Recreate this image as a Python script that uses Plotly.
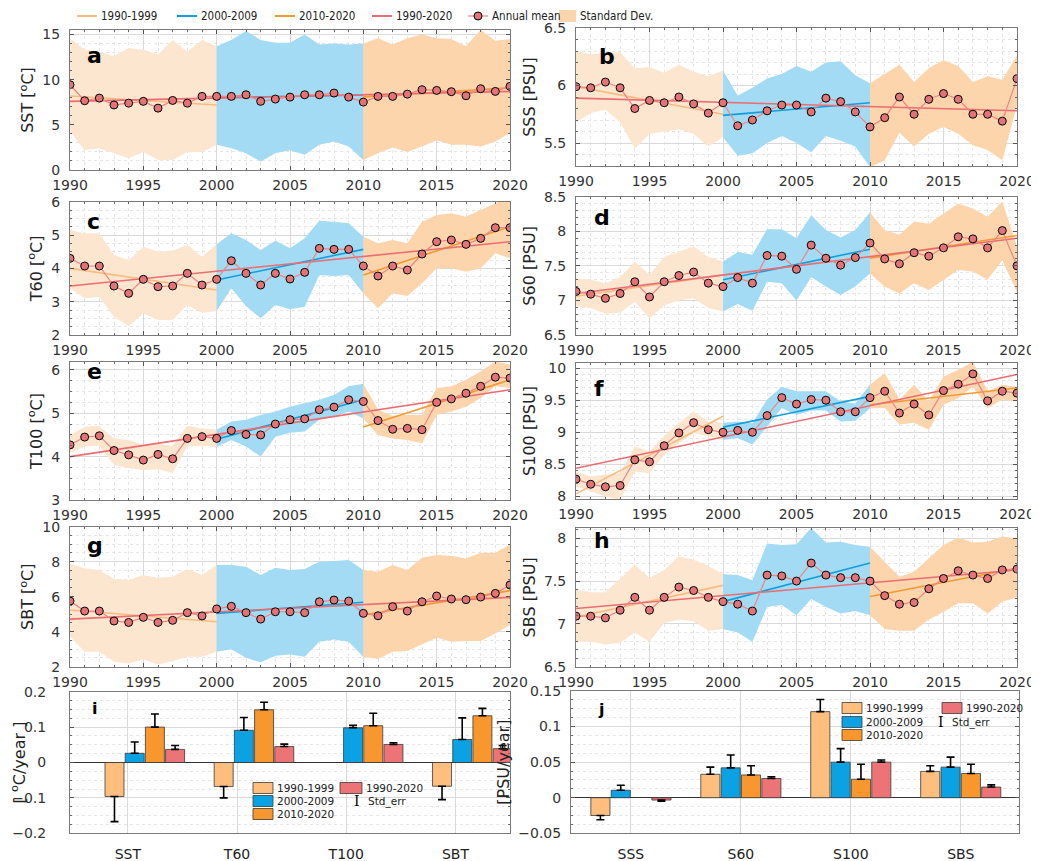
import plotly.graph_objects as go

# ---------------- DATA ----------------
YEARS = list(range(1990, 2021))
PERIOD_NAMES = ["1990-1999", "2000-2009", "2010-2020", "1990-2020"]
PERIOD_SPANS = [(1990, 2000), (2000, 2010), (2010, 2020), (1990, 2020)]

SST_mean = [9.44, 7.67, 7.96, 7.2, 7.4, 7.6, 6.85, 7.7, 7.4, 8.15, 8.15, 8.15, 8.33, 7.6, 7.85, 8.07,
            8.33, 8.33, 8.52, 8.07, 7.52, 8.15, 8.15, 8.4, 8.89, 8.81, 8.67, 8.22, 9.0, 8.7, 9.26]
SST_up = [14.6, 13.3, 13.1, 12.6, 13.5, 13.3, 12.8, 14.4, 13.1, 14.4, 13.7, 14.4, 15.4, 14.4, 14.1, 14.1,
          15.0, 13.9, 14.0, 13.9, 14.0, 14.6, 13.9, 14.6, 15.0, 14.6, 14.5, 13.7, 15.5, 14.3, 14.5]
SST_lo = [4.3, 2.2, 2.4, 1.85, 1.3, 2.0, 1.1, 1.1, 2.0, 2.0, 2.8, 2.4, 1.85, 0.93, 1.85, 2.2,
          1.7, 2.8, 3.15, 2.6, 1.1, 1.85, 2.5, 2.0, 2.6, 3.3, 2.8, 2.8, 2.6, 3.15, 4.1]
SST_trend = [[8.2, 7.2], [8.0, 8.3], [8.1, 9.1], [7.6, 8.7]]

SSS_mean = [5.99, 5.98, 6.03, 5.98, 5.8, 5.87, 5.85, 5.9, 5.84, 5.76, 5.85, 5.65, 5.7, 5.78, 5.83, 5.83,
            5.77, 5.89, 5.86, 5.77, 5.64, 5.72, 5.9, 5.75, 5.88, 5.93, 5.88, 5.75, 5.75, 5.69, 6.06]
SSS_up = [6.3, 6.27, 6.29, 6.29, 6.15, 6.16, 6.11, 6.18, 6.12, 6.08, 6.13, 5.91, 5.98, 6.06, 6.1, 6.17,
          6.12, 6.2, 6.21, 6.09, 6.02, 6.1, 6.18, 6.03, 6.15, 6.22, 6.17, 6.03, 6.08, 6.05, 6.26]
SSS_lo = [5.68, 5.76, 5.79, 5.68, 5.45, 5.58, 5.6, 5.62, 5.58, 5.47, 5.55, 5.39, 5.41, 5.5, 5.56, 5.5,
          5.42, 5.56, 5.52, 5.47, 5.29, 5.35, 5.59, 5.47, 5.58, 5.64, 5.58, 5.48, 5.44, 5.35, 5.83]
SSS_trend = [[5.99, 5.75], [5.74, 5.85], None, [5.89, 5.78]]

T60_mean = [4.3, 4.07, 4.07, 3.47, 3.25, 3.67, 3.45, 3.47, 3.85, 3.5, 3.67, 4.23, 3.85, 3.5, 3.85, 3.68,
            3.88, 4.6, 4.57, 4.57, 4.07, 3.77, 4.07, 3.95, 4.43, 4.8, 4.85, 4.72, 4.9, 5.22, 5.22]
T60_up = [5.15, 5.05, 5.05, 4.4, 4.25, 4.65, 4.5, 4.53, 4.7, 4.35, 4.72, 5.05, 4.85, 4.55, 4.83, 4.6,
          4.9, 5.43, 5.4, 5.35, 4.95, 4.75, 4.85, 4.75, 5.4, 5.6, 5.65, 5.55, 5.75, 5.95, 6.15]
T60_lo = [3.4, 3.1, 3.15, 2.55, 2.27, 2.65, 2.45, 2.45, 2.9, 2.67, 2.72, 3.4, 2.87, 2.5, 2.9, 2.77,
          2.85, 3.8, 3.77, 3.8, 3.25, 2.8, 3.25, 3.17, 3.55, 4.0, 4.0, 3.9, 4.0, 4.45, 4.3]
T60_trend = [[4.0, 3.35], [3.65, 4.57], [3.8, 5.25], [3.47, 4.8]]

S60_mean = [7.13, 7.09, 7.03, 7.1, 7.27, 7.05, 7.27, 7.36, 7.41, 7.25, 7.2, 7.33, 7.25, 7.65, 7.64, 7.45,
            7.8, 7.61, 7.51, 7.62, 7.83, 7.6, 7.53, 7.69, 7.64, 7.76, 7.92, 7.89, 7.76, 8.01, 7.5]
S60_up = [7.32, 7.3, 7.25, 7.34, 7.56, 7.37, 7.63, 7.7, 7.78, 7.63, 7.56, 7.7, 7.66, 8.03, 8.03, 7.9,
          8.23, 8.02, 7.91, 8.02, 8.27, 8.02, 7.95, 8.14, 8.11, 8.26, 8.4, 8.33, 8.21, 8.43, 7.78]
S60_lo = [6.92, 6.89, 6.81, 6.82, 6.98, 6.74, 6.93, 7.0, 7.03, 6.89, 6.84, 6.95, 6.85, 7.27, 7.25, 7.0,
          7.34, 7.2, 7.08, 7.2, 7.39, 7.2, 7.1, 7.25, 7.15, 7.3, 7.44, 7.42, 7.3, 7.58, 7.12]
S60_trend = [[7.06, 7.37], [7.3, 7.74], [7.61, 7.94], [7.1, 7.9]]

T100_mean = [4.27, 4.45, 4.48, 4.14, 4.04, 3.92, 4.05, 3.95, 4.42, 4.46, 4.42, 4.6, 4.51, 4.5, 4.75, 4.85,
             4.87, 5.08, 5.14, 5.31, 5.27, 4.83, 4.63, 4.65, 4.62, 5.25, 5.33, 5.46, 5.62, 5.83, 5.81]
T100_up = [4.5, 4.69, 4.71, 4.42, 4.38, 4.27, 4.29, 4.25, 4.71, 4.65, 4.62, 4.81, 4.85, 4.96, 5.04, 5.15,
           5.23, 5.31, 5.42, 5.62, 5.68, 5.08, 4.94, 4.96, 4.96, 5.58, 5.62, 5.77, 5.96, 6.19, 6.12]
T100_lo = [4.08, 4.23, 4.25, 3.81, 3.73, 3.69, 3.71, 3.62, 4.23, 4.25, 4.22, 4.38, 4.23, 4.0, 4.46, 4.55,
           4.58, 4.85, 4.91, 5.04, 4.88, 4.5, 4.42, 4.38, 4.31, 4.96, 5.04, 5.15, 5.35, 5.62, 5.58]
T100_trend = [None, [4.4, 5.31], [4.68, 5.77], [4.0, 5.54]]

S100_mean = [8.27, 8.19, 8.15, 8.17, 8.57, 8.54, 8.79, 8.99, 9.15, 9.04, 9.0, 9.03, 9.0, 9.26, 9.54, 9.44,
             9.51, 9.5, 9.32, 9.32, 9.54, 9.64, 9.3, 9.44, 9.27, 9.65, 9.75, 9.91, 9.49, 9.64, 9.61]
S100_up = [8.39, 8.31, 8.34, 8.36, 8.78, 8.7, 8.94, 9.15, 9.32, 9.17, 9.15, 9.17, 9.14, 9.51, 9.71, 9.64,
           9.64, 9.64, 9.48, 9.45, 9.74, 9.92, 9.51, 9.74, 9.48, 9.87, 9.97, 10.1, 9.64, 9.74, 9.71]
S100_lo = [8.16, 8.08, 8.0, 7.95, 8.39, 8.36, 8.65, 8.83, 8.99, 8.94, 8.88, 8.91, 8.81, 9.09, 9.38, 9.27,
           9.34, 9.34, 9.17, 9.18, 9.37, 9.38, 9.12, 9.15, 9.04, 9.43, 9.53, 9.71, 9.38, 9.51, 9.48]
S100_trend = [[8.04, 9.25], [9.08, 9.56], [9.43, 9.69], [8.44, 9.9]]

SBT_mean = [5.75, 5.18, 5.18, 4.61, 4.53, 4.82, 4.53, 4.65, 5.09, 4.9, 5.3, 5.45, 5.09, 4.72, 5.14, 5.14,
            5.09, 5.71, 5.81, 5.75, 5.05, 4.91, 5.43, 5.18, 5.71, 6.04, 5.87, 5.83, 5.98, 6.19, 6.67]
SBT_up = [7.9, 7.62, 7.52, 7.01, 6.95, 7.24, 7.09, 7.14, 7.58, 7.24, 7.81, 7.81, 7.71, 7.24, 7.66, 7.52,
          7.58, 8.0, 8.04, 8.1, 7.52, 7.43, 7.81, 7.52, 8.23, 8.38, 8.34, 8.19, 8.51, 8.51, 8.99]
SBT_lo = [3.71, 2.86, 2.86, 2.29, 2.19, 2.42, 2.13, 2.32, 2.57, 2.57, 2.86, 3.0, 2.51, 2.25, 2.63, 2.7,
          2.57, 3.43, 3.56, 3.43, 2.57, 2.44, 2.86, 2.9, 3.28, 3.66, 3.43, 3.47, 3.47, 3.9, 4.38]
SBT_trend = [[5.24, 4.57], [5.05, 5.68], [4.95, 6.35], [4.72, 5.96]]

SBS_mean = [7.09, 7.09, 7.07, 7.16, 7.31, 7.16, 7.31, 7.43, 7.39, 7.31, 7.26, 7.23, 7.15, 7.57, 7.56, 7.5,
            7.71, 7.57, 7.54, 7.54, 7.5, 7.33, 7.23, 7.25, 7.41, 7.53, 7.62, 7.57, 7.53, 7.63, 7.64]
SBS_up = [7.4, 7.37, 7.37, 7.53, 7.69, 7.54, 7.63, 7.79, 7.75, 7.68, 7.58, 7.57, 7.51, 7.94, 7.92, 7.93,
          8.12, 7.95, 7.96, 7.92, 7.9, 7.73, 7.55, 7.61, 7.77, 7.92, 8.01, 7.95, 7.96, 8.02, 8.0]
SBS_lo = [6.79, 6.79, 6.76, 6.78, 6.9, 6.79, 7.01, 7.05, 7.03, 6.92, 6.94, 6.9, 6.79, 7.2, 7.22, 7.1,
          7.29, 7.2, 7.12, 7.15, 7.1, 6.94, 6.92, 6.92, 7.05, 7.14, 7.24, 7.24, 7.12, 7.26, 7.31]
SBS_trend = [[7.08, 7.45], [7.26, 7.71], [7.32, 7.65], [7.18, 7.63]]

TEMP_CATS = ["SST", "T60", "T100", "SBT"]
TEMP_RATE = {"1990-1999": [-0.096, -0.068, None, -0.067],
             "2000-2009": [0.026, 0.091, 0.098, 0.065],
             "2010-2020": [0.100, 0.149, 0.104, 0.132],
             "1990-2020": [0.037, 0.045, 0.051, 0.039]}
TEMP_ERR = {"1990-1999": [0.071, 0.032, None, 0.038],
            "2000-2009": [0.032, 0.036, 0.007, 0.061],
            "2010-2020": [0.037, 0.021, 0.035, 0.021],
            "1990-2020": [0.011, 0.007, 0.005, 0.009]}
SAL_CATS = ["SSS", "S60", "S100", "SBS"]
SAL_RATE = {"1990-1999": [-0.025, 0.033, 0.121, 0.037],
            "2000-2009": [0.0105, 0.042, 0.050, 0.043],
            "2010-2020": [None, 0.032, 0.026, 0.034],
            "1990-2020": [-0.0033, 0.027, 0.050, 0.015]}
SAL_ERR = {"1990-1999": [0.006, 0.010, 0.017, 0.008],
           "2000-2009": [0.007, 0.018, 0.019, 0.014],
           "2010-2020": [None, 0.013, 0.021, 0.013],
           "1990-2020": [0.0017, 0.0025, 0.003, 0.003]}
LEGEND_LABELS = PERIOD_NAMES + ["Annual mean", "Standard Dev."]

# ---------------- STYLE ----------------
PAGE_W, PAGE_H = 1039, 861
PAD = 8                      # default page body margin
W, H = PAGE_W - PAD, PAGE_H - PAD
FONT = "DejaVu Sans"
NARROW = "DejaVu Sans Condensed, Liberation Sans Narrow, Liberation Sans, sans-serif"
BAND_COLORS = ["#FDE6CF", "#A2DBF3", "#FCD5AD"]
TR_COLORS = ["#F8BC80", "#129FDB", "#F39A31", "#EB6C72"]
BAR_COLORS = ["#FDBE7E", "#0AA2E3", "#F7972E", "#EC7376"]
MEAN_LINE = "#EE8585"
MEAN_FILL = "#E27476"
GRID = "#DADADA"
MINOR_GRID = "#E6E6E6"
AXLINE = "#7A7A7A"


def px_x(px):
    return (px - PAD) / W


def px_y(py):
    return 1 - (py - PAD) / H


SERIES = {
    "a": (SST_mean, SST_up, SST_lo, SST_trend, "SST [<sup>o</sup>C]"),
    "b": (SSS_mean, SSS_up, SSS_lo, SSS_trend, "SSS [PSU]"),
    "c": (T60_mean, T60_up, T60_lo, T60_trend, "T60 [<sup>o</sup>C]"),
    "d": (S60_mean, S60_up, S60_lo, S60_trend, "S60 [PSU]"),
    "e": (T100_mean, T100_up, T100_lo, T100_trend, "T100 [<sup>o</sup>C]"),
    "f": (S100_mean, S100_up, S100_lo, S100_trend, "S100 [PSU]"),
    "g": (SBT_mean, SBT_up, SBT_lo, SBT_trend, "SBT [<sup>o</sup>C]"),
    "h": (SBS_mean, SBS_up, SBS_lo, SBS_trend, "SBS [PSU]"),
}
# pixel geometry (page px): x-span, y-span(top,bottom), y-range, major dtick, minor dtick
GEOM = {
    "a": ((70, 510), (30, 170), (0, 15.5), 5, 1),
    "b": ((576, 1017), (28, 166), (5.3, 6.5), 0.5, 0.1),
    "c": ((70, 510), (201.7, 335), (2, 6), 1, 0.25),
    "d": ((576, 1017), (196.7, 335), (6.5, 8.5), 0.5, 0.1),
    "e": ((70, 510), (362, 500), (3, 6.18), 1, 0.25),
    "f": ((576, 1017), (363, 499), (7.96, 10.08), 0.5, 0.1),
    "g": ((70, 510), (526.7, 666.7), (2, 10), 2, 0.5),
    "h": ((576, 1017), (528, 666.7), (6.5, 8.12), 0.5, 0.1),
    "i": ((70, 510), (691.7, 833.3), (-0.2, 0.2), 0.1, 0.025),
    "j": ((571, 1019), (691, 833.3), (-0.05, 0.15), 0.05, 0.0125),
}
LETTER_POS = {"a": (85, 55, 22), "b": (597, 56, 22), "c": (85, 221, 22), "d": (592, 218, 22),
              "e": (85, 371, 22), "f": (592, 388, 22), "g": (85, 545, 22), "h": (592, 540, 22),
              "i": (90, 708, 16), "j": (596, 709, 16)}
BAR_SHIFT = {"i": 0.155, "j": 0.0}
BAR_XRANGE = {"i": (0.315, 4.345), "j": (0.455, 4.53)}
YLABEL_STANDOFF = {"i": 20}
# bar-panel legend geometry (page px)
BAR_LEG = {"i": dict(c1=(253, 273), c2=(340, 362), se=357, rows=(788, 801, 814)),
           "j": dict(c1=(842, 862), c2=(942, 962), se=941, rows=(708, 722, 735))}
# top legend geometry (page px): swatch spans, row centre
TOP_LEG_SPANS = [(77, 97), (177, 197), (275, 295), (372, 392), (468, 488), (559, 576)]
TOP_LEG_Y = 16

KEYS = "abcdefghij"
AX = {k: i + 1 for i, k in enumerate(KEYS)}


def ref(n, kind):
    return kind + ("" if n == 1 else str(n))


def lname(n, kind):
    return kind + "axis" + ("" if n == 1 else str(n))


fig = go.Figure()

# ---- line panels ----
for key, (mean, up, lo, trend, title) in SERIES.items():
    n = AX[key]
    xr, yr = ref(n, "x"), ref(n, "y")
    for k in range(3):
        s, e = 10 * k, 10 * k + 11
        xs = YEARS[s:e]
        fig.add_trace(go.Scatter(
            x=xs + xs[::-1], y=up[s:e] + lo[s:e][::-1], fill="toself",
            fillcolor=BAND_COLORS[k], line=dict(width=0, color=BAND_COLORS[k]), mode="lines",
            xaxis=xr, yaxis=yr, hoverinfo="skip", name="Standard Dev."))
    for k, seg in enumerate(trend):
        if seg is None:
            continue
        fig.add_trace(go.Scatter(
            x=list(PERIOD_SPANS[k]), y=seg, mode="lines",
            line=dict(color=TR_COLORS[k], width=1.6), xaxis=xr, yaxis=yr, name=PERIOD_NAMES[k]))
    fig.add_trace(go.Scatter(
        x=YEARS, y=mean, mode="lines+markers",
        line=dict(color=MEAN_LINE, width=1.2),
        marker=dict(size=8, color=MEAN_FILL, line=dict(color="black", width=1)),
        xaxis=xr, yaxis=yr, name="Annual mean"))

shapes, annotations = [], []

# ---- top legend (drawn) ----
for idx, (sx0, sx1) in enumerate(TOP_LEG_SPANS):
    yc = TOP_LEG_Y
    if idx < 4:
        shapes.append(dict(type="line", xref="paper", yref="paper", x0=px_x(sx0), x1=px_x(sx1),
                           y0=px_y(yc), y1=px_y(yc), line=dict(color=TR_COLORS[idx], width=2)))
    elif idx == 4:
        shapes.append(dict(type="line", xref="paper", yref="paper", x0=px_x(sx0), x1=px_x(sx1),
                           y0=px_y(yc), y1=px_y(yc), line=dict(color=MEAN_LINE, width=1.2)))
        cx = (sx0 + sx1) / 2
        shapes.append(dict(type="circle", xref="paper", yref="paper", x0=px_x(cx - 4), x1=px_x(cx + 4),
                           y0=px_y(yc + 4), y1=px_y(yc - 4), fillcolor=MEAN_FILL,
                           line=dict(color="black", width=1)))
    else:
        shapes.append(dict(type="rect", xref="paper", yref="paper", x0=px_x(sx0), x1=px_x(sx1),
                           y0=px_y(yc + 6), y1=px_y(yc - 6), fillcolor=BAND_COLORS[2], line=dict(width=0)))
    annotations.append(dict(text=LEGEND_LABELS[idx], x=px_x(sx1 + 2), y=px_y(yc), xref="paper",
                            yref="paper", xanchor="left", yanchor="middle", showarrow=False,
                            font=dict(size=11.5, color="#222", family=NARROW)))

# ---- bar panels ----
for key, cats, rates, errs in (("i", TEMP_CATS, TEMP_RATE, TEMP_ERR), ("j", SAL_CATS, SAL_RATE, SAL_ERR)):
    n = AX[key]
    xr, yr = ref(n, "x"), ref(n, "y")
    groups = list(range(1, len(cats) + 1))
    for k, pname in enumerate(PERIOD_NAMES):
        vals, ers = rates[pname], errs[pname]
        plus = [(er if (v is not None and v >= 0) else 0) for v, er in zip(vals, ers)]
        minus = [(er if (v is not None and v < 0) else 0) for v, er in zip(vals, ers)]
        fig.add_trace(go.Bar(
            x=groups, y=vals, xaxis=xr, yaxis=yr, name=pname,
            marker=dict(color=BAR_COLORS[k], line=dict(color="#3a3a3a", width=0.8)),
            error_y=dict(type="data", symmetric=False, array=plus, arrayminus=minus,
                         color="black", thickness=1.6, width=4)))
    g = BAR_LEG[key]
    entries = [(g["c1"], g["rows"][0], 0), (g["c1"], g["rows"][1], 1), (g["c1"], g["rows"][2], 2),
               (g["c2"], g["rows"][0], 3)]
    for (sx0, sx1), yc, k in entries:
        shapes.append(dict(type="rect", xref="paper", yref="paper",
                           x0=px_x(sx0), x1=px_x(sx1), y0=px_y(yc + 5.5), y1=px_y(yc - 5.5),
                           fillcolor=BAR_COLORS[k], line=dict(color="#3a3a3a", width=0.8)))
        annotations.append(dict(text=PERIOD_NAMES[k], x=px_x(sx1 + 2), y=px_y(yc), xref="paper",
                                yref="paper", xanchor="left", yanchor="middle", showarrow=False,
                                font=dict(size=10.5, color="#222", family=FONT)))
    annotations.append(dict(text="I", x=px_x(g["se"]), y=px_y(g["rows"][1]), xref="paper", yref="paper",
                            xanchor="center", yanchor="middle", showarrow=False,
                            font=dict(size=14, color="black", family="DejaVu Serif")))
    annotations.append(dict(text="Std_err", x=px_x(g["se"] + 9), y=px_y(g["rows"][1]), xref="paper",
                            yref="paper", xanchor="left", yanchor="middle", showarrow=False,
                            font=dict(size=10.5, color="#222", family=FONT)))

# ---- axes ----
layout_axes = {}
for key in KEYS:
    n = AX[key]
    (x0, x1), (top, bot), yrng, dt, mdt = GEOM[key]
    common = dict(showline=True, linecolor=AXLINE, linewidth=1, mirror="allticks",
                  ticks="inside", ticklen=4, tickcolor="#555", showgrid=True, gridcolor=GRID,
                  gridwidth=1, zeroline=False, tickfont=dict(size=14, color="#333", family=FONT))
    if key in SERIES:
        xa = dict(common, domain=[px_x(x0), px_x(x1)], anchor=ref(n, "y"), range=[1990, 2020],
                  tick0=1990, dtick=5, ticklabelstandoff=2,
                  minor=dict(dtick=1, ticks="inside", ticklen=2, tickcolor="#666", showgrid=True,
                             gridcolor=MINOR_GRID, griddash="dot"))
        ytitle = SERIES[key][4]
    else:
        shift = BAR_SHIFT[key]
        cats = TEMP_CATS if key == "i" else SAL_CATS
        xa = dict(common, domain=[px_x(x0), px_x(x1)], anchor=ref(n, "y"), range=list(BAR_XRANGE[key]),
                  tickvals=[gp - shift for gp in range(1, 5)], ticktext=cats, ticks="",
                  ticklabelstandoff=8, tickfont=dict(size=14, color="#222", family=FONT))
        ytitle = "[ <sup>o</sup>C/year ]" if key == "i" else "[PSU/year]"
    ya = dict(common, domain=[px_y(bot), px_y(top)], anchor=ref(n, "x"), range=list(yrng),
              tick0=0, dtick=dt, ticklabelstandoff=YLABEL_STANDOFF.get(key, 6),
              minor=dict(dtick=mdt, ticks="inside", ticklen=2, tickcolor="#666", showgrid=True,
                         gridcolor=MINOR_GRID, griddash="dot"),
              title=dict(text=ytitle, font=dict(size=16, color="#222", family=FONT), standoff=4))
    if key in ("i", "j"):
        ya.update(zeroline=True, zerolinecolor="#333", zerolinewidth=1)
    layout_axes[lname(n, "x")] = xa
    layout_axes[lname(n, "y")] = ya

for key, (px, py, sz) in LETTER_POS.items():
    annotations.append(dict(text="<b>%s</b>" % key, x=px_x(px), y=px_y(py), xref="paper", yref="paper",
                            xanchor="left", yanchor="middle", showarrow=False,
                            font=dict(size=sz, color="black", family=FONT)))

fig.update_layout(
    width=W, height=H, autosize=False, template="none", showlegend=False,
    margin=dict(l=0, r=0, t=0, b=0),
    paper_bgcolor="white", plot_bgcolor="white",
    font=dict(family=FONT, size=12, color="#222"),
    barmode="group", bargap=0.26, bargroupgap=0.06,
    annotations=annotations, shapes=shapes,
    **layout_axes,
)

fig.write_html("out.html")
